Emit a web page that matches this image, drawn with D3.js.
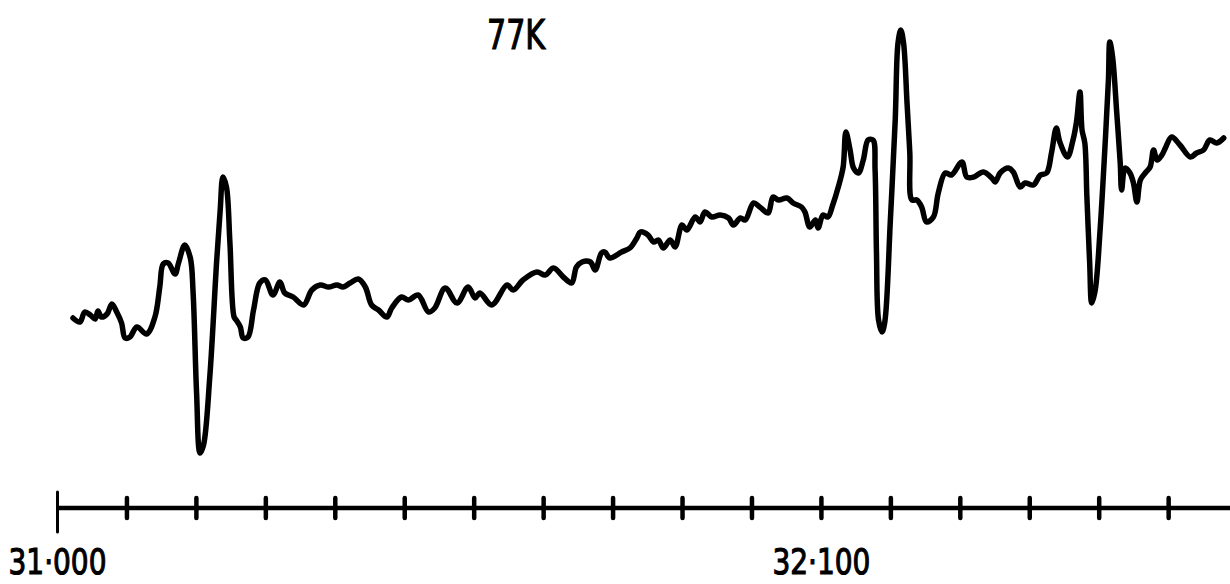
<!DOCTYPE html>
<html>
<head>
<meta charset="utf-8">
<script src="https://cdn.jsdelivr.net/npm/d3@7"></script>
<style>
  html, body { margin: 0; padding: 0; background: #fff; }
  svg { display: block; }
</style>
</head>
<body>
<svg id="chart" width="1230" height="584"></svg>
<script>
// Frequency (MHz) of each traced point of the 77K spectrum
const freqMHz = [
  31023,31033,31040,31048,31055,31059,31064,31072,31079,31086,
  31093,31098,31105,31115,31129,31141,31148,31153,31160,31170,
  31175,31184,31192,31196,31201,31206,31211,31220,31230,31235,
  31239,31244,31249,31255,31258,31264,31268,31275,31283,31292,
  31300,31311,31321,31328,31340,31355,31367,31379,31391,31403,
  31412,31422,31434,31444,31453,31463,31475,31482,31496,31506,
  31520,31535,31544,31559,31576,31592,31602,31609,31626,31648,
  31657,31671,31691,31703,31715,31729,31741,31748,31756,31768,
  31775,31784,31789,31796,31813,31825,31835,31840,31851,31859,
  31866,31873,31883,31890,31900,31907,31919,31926,31933,31943,
  31955,31967,31974,31984,31991,32003,32012,32024,32031,32039,
  32051,32060,32072,32077,32084,32092,32096,32103,32110,32117,
  32125,32132,32136,32142,32147,32154,32161,32168,32175,32178,
  32180,32183,32188,32192,32200,32207,32211,32215,32219,32224,
  32228,32231,32238,32245,32252,32262,32269,32279,32288,32303,
  32310,32320,32334,32346,32351,32358,32370,32377,32387,32394,
  32406,32416,32425,32432,32439,32444,32455,32463,32468,32473,
  32476,32480,32483,32487,32490,32495,32502,32509,32514,32516,
  32520,32526,32531,32533,32538,32545,32550,32555,32560,32567,
  32574,32579,32584,32591,32596,32605,32617,32632,32641,32651,
  32660,32670,32680
];
// Recorder signal (arbitrary units) at each frequency
const signal = [
  152,148,158,155,151,159,153,156,166,158,
  147,132,133,143,136,153,183,206,207,196,
  207,225,212,177,77,17,25,93,210,260,
  293,283,227,153,150,143,132,133,160,187,
  190,175,188,177,173,165,180,185,183,185,
  183,187,191,183,165,160,153,162,173,170,
  175,158,162,182,167,183,172,177,165,185,
  180,190,198,195,202,193,187,203,208,208,
  200,217,218,212,218,222,232,238,235,228,
  230,222,230,223,245,240,253,248,258,253,
  255,252,245,252,250,267,263,257,273,270,
  272,267,263,258,243,250,242,255,253,265,
  283,303,338,320,302,297,310,330,330,300,
  217,150,138,148,250,350,427,440,427,367,
  317,270,270,263,248,253,277,297,295,308,
  293,293,298,292,288,297,302,298,283,287,
  285,295,297,317,342,328,313,330,348,378,
  340,327,273,207,167,180,240,323,390,428,
  413,357,307,280,302,297,287,268,290,297,
  303,320,310,315,322,333,325,313,317,320,
  330,327,332
];
// Axis ticks every 0.1 GHz; only two are labelled on the original
const tickValues = [31000,31100,31200,31300,31400,31500,31600,31700,31800,31900,
                    32000,32100,32200,32300,32400,32500,32600,32700];
const tickLabels = { 31000: "31\u00B7000", 32100: "32\u00B7100" };
const title = "77K";

const FONT = "'DejaVu Sans', sans-serif";
const svg = d3.select("#chart");
const x = d3.scaleLinear().domain([31000, 32700]).range([57, 1237.6]);
const y = d3.scaleLinear().domain([0, 450]).range([470, 20]);

const data = freqMHz.map((f, i) => ({ f, v: signal[i] }));

svg.append("path")
  .datum(data)
  .attr("fill", "none")
  .attr("stroke", "#000")
  .attr("stroke-width", 5.5)
  .attr("stroke-linejoin", "round")
  .attr("stroke-linecap", "round")
  .attr("d", d3.line().x(d => x(d.f)).y(d => y(d.v)).curve(d3.curveCatmullRom.alpha(0.5)));

// Frequency axis
const axisY = 508;
const axis = d3.axisBottom(x)
  .tickValues(tickValues)
  .tickSize(0)
  .tickFormat(d => tickLabels[d] || "");
const gAxis = svg.append("g").attr("transform", `translate(0,${axisY})`).call(axis);
gAxis.select(".domain")
  .attr("d", `M${x(31000)},0H1232`)
  .attr("stroke", "#000")
  .attr("stroke-width", 4.5);
gAxis.selectAll(".tick line").remove();
gAxis.selectAll(".tick").append("line")
  .attr("y1", d => d === 31000 ? -16 : -10)
  .attr("y2", d => d === 31000 ? 24 : 10)
  .attr("stroke", "#000")
  .attr("stroke-width", d => d === 31000 ? 3 : 4.5)
  .attr("stroke-linecap", "round");
gAxis.selectAll(".tick text")
  .attr("y", 66)
  .attr("dy", 0)
  .attr("fill", "#000")
  .attr("stroke", "#000")
  .attr("stroke-width", 1.2)
  .style("font-family", FONT)
  .style("font-size", "36px")
  .attr("text-anchor", "middle")
  .attr("textLength", d => tickLabels[d] ? 98 : null)
  .attr("lengthAdjust", "spacingAndGlyphs");

svg.append("text")
  .attr("x", 516)
  .attr("y", 49)
  .attr("text-anchor", "middle")
  .attr("textLength", 58)
  .attr("lengthAdjust", "spacingAndGlyphs")
  .attr("stroke", "#000")
  .attr("stroke-width", 1.2)
  .style("font-family", FONT)
  .style("font-size", "40px")
  .text(title);
</script>
</body>
</html>
